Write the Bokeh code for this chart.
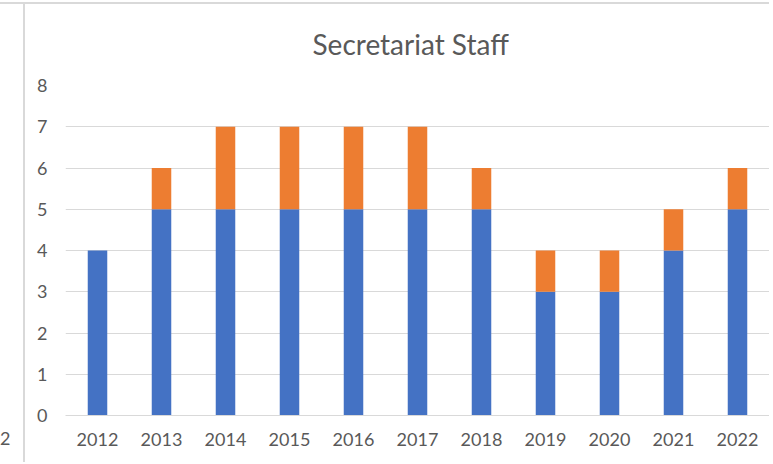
from bokeh.plotting import figure
from bokeh.models import Range1d, FixedTicker, ColumnDataSource, Div
from bokeh.layouts import row
from bokeh.embed import file_html
from bokeh.resources import INLINE

years = [2012, 2013, 2014, 2015, 2016, 2017, 2018, 2019, 2020, 2021, 2022]
series_a = [4, 5, 5, 5, 5, 5, 5, 3, 3, 4, 5]
series_b = [0, 1, 2, 2, 2, 2, 1, 1, 1, 1, 1]
y_ticks = [0, 1, 2, 3, 4, 5, 6, 7, 8]
title_text = "Secretariat Staff"
edge_text = "2"

src = ColumnDataSource(dict(year=years, a=series_a, b=series_b))

p = figure(width=746, height=460, output_backend="svg", toolbar_location=None,
           x_range=Range1d(2011.5, 2022.5), y_range=Range1d(0, 8),
           min_border_left=40, min_border_right=2, min_border_top=79, min_border_bottom=49)
p.styles = {"margin-top": "2px", "border-top": "2px solid #D9D9D9",
            "border-left": "2px solid #D9D9D9"}
p.outline_line_color = None
p.background_fill_color = "white"

p.title.text = title_text
p.title.align = "left"
p.title.vertical_align = "top"
p.title.offset = 247
p.title.standoff = 45
p.title.text_font = "Lato"
p.title.text_font_size = "28px"
p.title.text_font_style = "normal"
p.title.text_color = "#595959"

p.vbar_stack(["a", "b"], x="year", width=0.305, source=src,
             color=["#4472C4", "#ED7D31"], line_color=None)

p.xaxis.ticker = FixedTicker(ticks=years)
p.yaxis.ticker = FixedTicker(ticks=y_ticks)
p.xgrid.grid_line_color = None
p.ygrid.grid_line_color = "#D9D9D9"
p.ygrid.grid_line_width = 1

for ax in (p.xaxis[0], p.yaxis[0]):
    ax.major_tick_line_color = None
    ax.minor_tick_line_color = None
    ax.major_label_text_font = "Lato"
    ax.major_label_text_font_size = "18px"
    ax.major_label_text_color = "#595959"
p.xaxis.axis_line_color = "#D9D9D9"
p.yaxis.axis_line_color = None
p.yaxis.major_label_standoff = 12
p.xaxis.major_label_standoff = 11

edge = Div(text='<div style="padding-top:424px;font-family:Lato;font-size:18px;'
                'line-height:1.2;color:#595959;margin:0">' + edge_text + '</div>',
           width=23, height=460, margin=0,
           styles={"margin-top": "2px", "border-top": "2px solid #D9D9D9"})

layout = row(edge, p)

open("out.html", "w").write(file_html(layout, INLINE))
